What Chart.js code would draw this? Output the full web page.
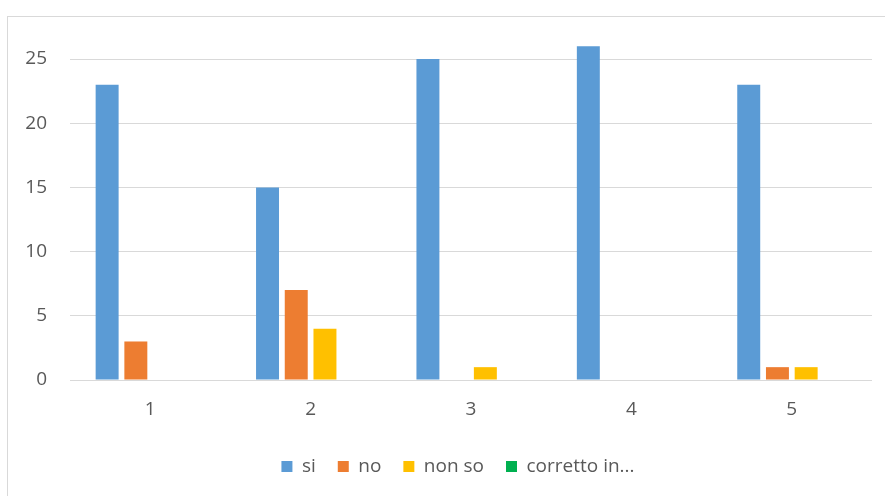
<!DOCTYPE html>
<html><head><meta charset="utf-8">
<script src="https://cdn.jsdelivr.net/npm/chart.js@4/dist/chart.umd.min.js"></script>
<style>
html,body{margin:0;padding:0;background:#fff;overflow:hidden;}
#box{position:absolute;left:7px;top:16px;width:940px;height:490px;border:1px solid #d9d9d9;}
#c{position:absolute;left:0;top:0;}
</style></head><body>
<div id="box"><canvas id="c" width="914" height="480"></canvas></div>
<script>
const categories = ["1","2","3","4","5"];
const seriesNames = ["si","no","non so","corretto in..."];
const si = [23,15,25,26,23];
const no = [3,7,0,0,1];
const nonSo = [0,4,1,0,1];
const corretto = [0,0,0,0,0];
const colors = ["#5B9BD5","#ED7D31","#FFC000","#00B050"];
const values = [si,no,nonSo,corretto];

const ctx = document.getElementById('c').getContext('2d');
new Chart(ctx,{
  type:'bar',
  data:{labels:categories,datasets:values.map((v,i)=>({label:seriesNames[i],data:v,backgroundColor:colors[i],borderWidth:0,categoryPercentage:0.716,barPercentage:0.8,clip:false}))},
  options:{
    responsive:false,animation:false,
    layout:{padding:{top:42,right:14,left:0,bottom:11}},
    plugins:{
      tooltip:{enabled:false},
      legend:{position:'bottom',labels:{boxWidth:11,boxHeight:11,color:'#595959',font:{family:'Open Sans',size:19},padding:22}}
    },
    scales:{
      x:{grid:{display:false},border:{display:false},ticks:{color:'#595959',font:{family:'Open Sans',size:19},padding:10},
         afterFit:s=>{s.height=55;}},
      y:{min:0,max:25,ticks:{stepSize:5,color:'#595959',font:{family:'Open Sans',size:19},padding:23},
         grid:{color:'#d9d9d9',drawTicks:false},border:{display:false},
         afterFit:s=>{s.width=62;}},
      yR:{position:'right',min:0,max:25,grid:{display:false,drawTicks:false},border:{display:false},ticks:{display:false},
         afterFit:s=>{s.width=36;}}
    }
  }
});
</script></body></html>
